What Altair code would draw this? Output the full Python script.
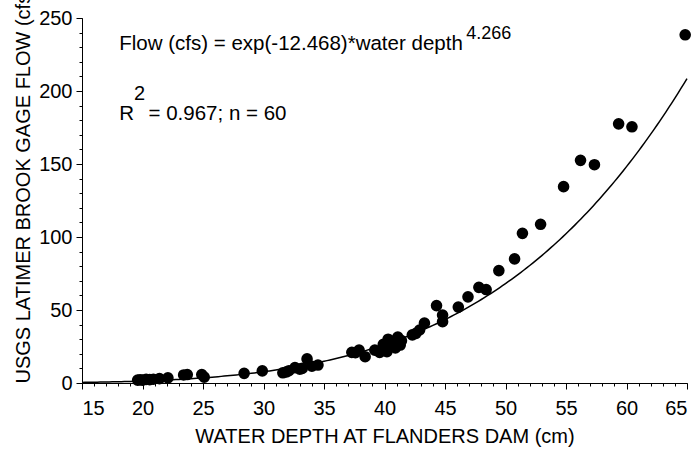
import altair as alt
import pandas as pd

# ---- data ----
depth = [19.6, 19.8, 20.0, 20.3, 20.6, 20.9, 21.4, 22.1, 23.4, 23.7, 24.9, 25.1,
         28.4, 29.9, 31.6, 31.9, 32.1, 32.6, 33.0, 33.2, 33.6, 34.0, 34.5,
         37.3, 37.6, 37.9, 38.4, 39.2, 39.6, 39.9, 40.0, 40.2, 40.3, 40.6, 40.9,
         41.0, 41.1, 41.3, 41.4, 42.3, 42.6, 42.9, 43.3, 44.3, 44.8, 44.8,
         46.1, 46.9, 47.8, 48.4, 49.45, 50.75, 51.4, 52.9, 54.8, 56.2, 57.35,
         59.35, 60.45, 64.85]
flow = [2.0, 2.2, 2.0, 2.5, 2.3, 2.6, 3.0, 3.5, 5.5, 5.8, 5.8, 4.0,
        6.6, 8.3, 7.0, 7.6, 8.4, 10.5, 9.5, 10.0, 16.5, 11.5, 12.3,
        21.0, 20.8, 22.5, 18.0, 22.5, 21.0, 26.5, 23.5, 21.5, 30.0, 28.0, 24.0,
        29.5, 31.5, 26.0, 29.0, 33.0, 34.0, 36.3, 41.0, 53.0, 46.5, 42.0,
        52.0, 59.0, 65.5, 64.0, 77.0, 85.0, 102.5, 108.7, 134.5, 152.5, 149.5,
        177.5, 175.5, 238.5]

x_major = [15, 20, 25, 30, 35, 40, 45, 50, 55, 60, 65]
x_minor = list(range(15, 66))
y_major = [0, 50, 100, 150, 200, 250]
y_minor = list(range(0, 251, 10))

# fitted model shown on the chart
intercept = -12.468
exponent = 4.266

x_title = "WATER DEPTH AT FLANDERS DAM (cm)"
y_title = "USGS LATIMER BROOK GAGE FLOW (cfs)"

eq_text = ["Flow (cfs) = exp(-12.468)*water depth"]
eq_sup = ["4.266"]
r_text = ["R"]
r_sup = ["2"]
r_rest = ["= 0.967; n = 60"]

FONT = "Liberation Sans"

x_scale = alt.Scale(domain=[15, 65], nice=False, zero=False)
y_scale = alt.Scale(domain=[0, 250], nice=False, zero=False)

pts_df = pd.DataFrame({"depth": depth, "flow": flow})

curve = (
    alt.Chart(alt.sequence(15, 65.01, 0.25, as_="d"))
    .transform_calculate(depth="datum.d",
                         flow=f"exp({intercept})*pow(datum.d,{exponent})")
    .mark_line(color="black", strokeWidth=1.5)
    .encode(
        x=alt.X("depth:Q", scale=x_scale,
                axis=alt.Axis(values=x_minor, tickSize=3, labels=False,
                              domain=False, title="", orient="bottom", grid=False)),
        y=alt.Y("flow:Q", scale=y_scale,
                axis=alt.Axis(values=y_minor, tickSize=3, labels=False,
                              domain=False, title="", orient="left", grid=False)),
    )
)

points = (
    alt.Chart(pts_df)
    .mark_circle(size=135, color="black", opacity=1)
    .encode(
        x=alt.X("depth:Q", scale=x_scale,
                axis=alt.Axis(values=x_major, title=x_title, tickSize=6,
                              labelPadding=9, titlePadding=8, orient="bottom",
                              grid=False)),
        y=alt.Y("flow:Q", scale=y_scale,
                axis=alt.Axis(values=y_major, title=y_title, tickSize=6,
                              labelPadding=4, titlePadding=5, titleAnchor="start",
                              orient="left", grid=False)),
    )
)


def label(texts, xpos, ypos, size):
    df = pd.DataFrame({"t": texts, "x": [xpos], "y": [ypos]})
    return (
        alt.Chart(df)
        .mark_text(align="left", baseline="alphabetic", font=FONT,
                   fontSize=size, color="black")
        .encode(x=alt.X("x:Q", scale=x_scale, axis=None),
                y=alt.Y("y:Q", scale=y_scale, axis=None),
                text="t:N")
    )


texts = [
    label(eq_text, 18.08, 228.0, 20.5),
    label(eq_sup, 46.75, 235.5, 18),
    label(r_text, 18.08, 180.0, 20.5),
    label(r_sup, 19.3, 193.5, 20),
    label(r_rest, 20.5, 180.0, 20.5),
]

chart = (
    alt.layer(curve, points, *texts)
    .resolve_axis(x="independent", y="independent")
    .properties(width=605, height=365, autosize="none",
                padding={"left": 82, "top": 18, "right": 12, "bottom": 66})
    .configure_view(stroke=None)
    .configure_axis(labelFont=FONT, titleFont=FONT, labelFontSize=20,
                    titleFontSize=20, titleFontWeight="normal",
                    labelColor="black", titleColor="black",
                    domainColor="black", tickColor="black",
                    domainWidth=1, tickWidth=1)
)

chart.save("out.html", embed_options={"renderer": "svg", "actions": False})
